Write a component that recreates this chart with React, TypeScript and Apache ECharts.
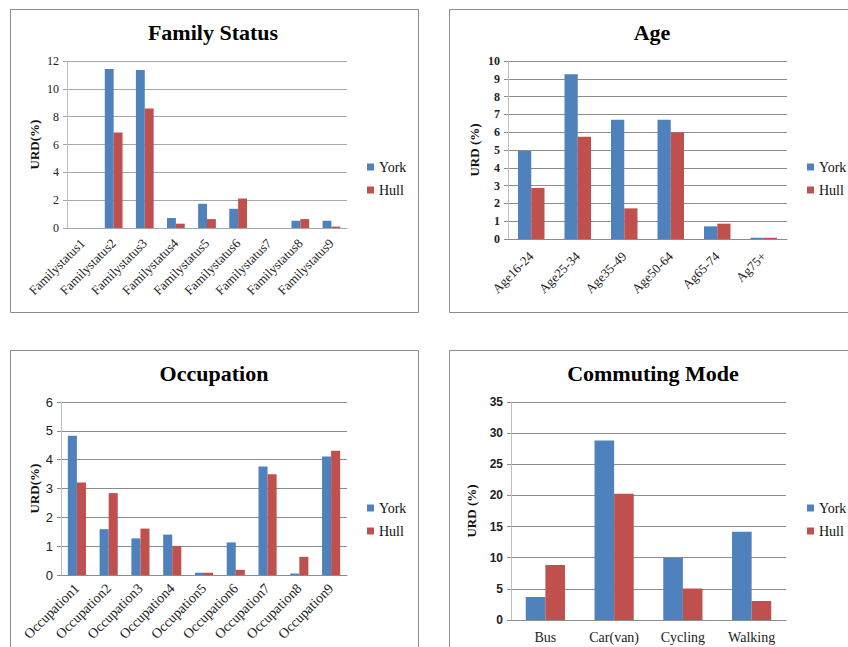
import React, { useEffect, useRef } from "react";
import * as echarts from "echarts";

const familyCategories = ["Familystatus1", "Familystatus2", "Familystatus3", "Familystatus4", "Familystatus5", "Familystatus6", "Familystatus7", "Familystatus8", "Familystatus9"];
const familyYork = [0, 11.43, 11.36, 0.72, 1.74, 1.38, 0, 0.52, 0.52];
const familyHull = [0, 6.87, 8.59, 0.31, 0.64, 2.12, 0, 0.64, 0.1];

const ageCategories = ["Age16-24", "Age25-34", "Age35-49", "Age50-64", "Ag65-74", "Ag75+"];
const ageYork = [4.94, 9.25, 6.7, 6.7, 0.71, 0.07];
const ageHull = [2.87, 5.75, 1.72, 5.99, 0.86, 0.07];

const occCategories = ["Occupation1", "Occupation2", "Occupation3", "Occupation4", "Occupation5", "Occupation6", "Occupation7", "Occupation8", "Occupation9"];
const occYork = [4.83, 1.59, 1.27, 1.4, 0.08, 1.13, 3.76, 0.05, 4.11];
const occHull = [3.21, 2.84, 1.61, 1.01, 0.08, 0.18, 3.49, 0.63, 4.31];

const modeCategories = ["Bus", "Car(van)", "Cycling", "Walking"];
const modeYork = [3.7, 28.8, 10.0, 14.15];
const modeHull = [8.84, 20.26, 5.04, 3.05];

const titles = ["Family Status", "Age", "Occupation", "Commuting Mode"];
const seriesNames = ["York", "Hull"];

const YORK = "#4F81BD";
const HULL = "#C0504D";
const SERIF = "Liberation Serif";
const SANS = "Liberation Sans";

export default function App() {
  const ref = useRef<HTMLDivElement>(null);
  useEffect(() => {
    if (!ref.current) return;
    const chart = echarts.init(ref.current, null, { renderer: "svg" });

    const grids = [
      { left: 67, top: 61, width: 280, height: 167 },
      { left: 508, top: 61, width: 279, height: 178 },
      { left: 61, top: 402, width: 286, height: 173 },
      { left: 511, top: 402, width: 275, height: 218 },
    ];
    const cats = [familyCategories, ageCategories, occCategories, modeCategories];
    const yMax = [12, 10, 6, 35];
    const yInt = [2, 1, 1, 5];
    const yNames = ["URD(%)", "URD (%)", "URD(%)", "URD (%)"];
    const nameGaps = [26, 27, 20, 33];
    const yFont = [SERIF, SERIF, SANS, SANS];
    const yBold = ["normal", "bold", "normal", "bold"];
    const ySize = [12, 12, 13, 12];
    const gridColors = ["#a6a6a6", "#8c8c8c", "#8c8c8c", "#8c8c8c"];
    const rotates = [45, 45, 45, 0];
    const xMargins = [13, 15, 11, 10];
    const xSizes = [13, 13, 14, 14];
    const york = [familyYork, ageYork, occYork, modeYork];
    const hull = [familyHull, ageHull, occHull, modeHull];

    const xAxis = cats.map((c, i) => ({
      type: "category",
      gridIndex: i,
      data: c,
      axisLine: { lineStyle: { color: gridColors[i] } },
      axisTick: { show: false },
      axisLabel: {
        interval: 0,
        rotate: rotates[i],
        margin: xMargins[i],
        color: "#222",
        fontFamily: SERIF,
        fontSize: xSizes[i],
      },
    }));
    const yAxis = cats.map((_, i) => ({
      type: "value",
      gridIndex: i,
      min: 0,
      max: yMax[i],
      interval: yInt[i],
      name: yNames[i],
      nameLocation: "middle",
      nameGap: nameGaps[i],
      nameRotate: 90,
      nameTextStyle: { fontFamily: SERIF, fontWeight: "bold", fontSize: 13, color: "#111" },
      axisLine: { show: true, lineStyle: { color: "#c0c0c0" } },
      axisTick: { show: true, length: 4, lineStyle: { color: gridColors[i] } },
      splitLine: { lineStyle: { color: gridColors[i] } },
      axisLabel: {
        margin: 8,
        color: "#222",
        fontFamily: yFont[i],
        fontWeight: yBold[i],
        fontSize: ySize[i],
      },
    }));
    const series: any[] = [];
    cats.forEach((_, i) => {
      series.push({
        type: "bar",
        name: seriesNames[0],
        xAxisIndex: i,
        yAxisIndex: i,
        data: york[i],
        itemStyle: { color: YORK },
        barGap: "0%",
        barCategoryGap: "43%",
      });
      series.push({
        type: "bar",
        name: seriesNames[1],
        xAxisIndex: i,
        yAxisIndex: i,
        data: hull[i],
        itemStyle: { color: HULL },
        barGap: "0%",
        barCategoryGap: "43%",
      });
    });

    const legendPos = [
      { left: 367, top: 160 },
      { left: 807, top: 160 },
      { left: 367, top: 501 },
      { left: 807, top: 501 },
    ];
    const legend = legendPos.map((p) => ({
      ...p,
      orient: "vertical",
      padding: 0,
      data: seriesNames,
      icon: "rect",
      itemWidth: 7,
      itemHeight: 7,
      itemGap: 9,
      selectedMode: false,
      formatter: "{s|{name}}",
      textStyle: {
        fontFamily: SERIF,
        fontSize: 14,
        color: "#111",
        rich: { s: { fontFamily: SERIF, fontSize: 14, color: "#111" } },
      },
    }));

    const titlePos = [
      [213, 32],
      [652, 32],
      [214, 373],
      [653, 373],
    ];
    const borders = [
      [10.5, 9.5, 408, 303],
      [449.5, 9.5, 420, 303],
      [10.5, 350.5, 408, 330],
      [449.5, 350.5, 420, 330],
    ];
    const graphic: any[] = [];
    borders.forEach((b) =>
      graphic.push({
        type: "rect",
        shape: { x: b[0], y: b[1], width: b[2], height: b[3] },
        style: { fill: "none", stroke: "#8c8c8c", lineWidth: 1 },
        silent: true,
        z: -1,
      })
    );
    titles.forEach((t, i) =>
      graphic.push({
        type: "text",
        x: titlePos[i][0],
        y: titlePos[i][1],
        style: {
          text: t,
          fontFamily: SERIF,
          fontWeight: "bold",
          fontSize: 22,
          fill: "#000",
          textAlign: "center",
          textVerticalAlign: "middle",
        },
      })
    );

    chart.setOption({
      animation: false,
      backgroundColor: "#fff",
      textStyle: { fontFamily: SERIF },
      grid: grids,
      xAxis,
      yAxis,
      series,
      legend,
      graphic,
    });
    return () => chart.dispose();
  }, []);
  return (
    <div
      ref={ref}
      style={{ position: "fixed", left: 0, top: 0, width: 848, height: 647 }}
    />
  );
}
